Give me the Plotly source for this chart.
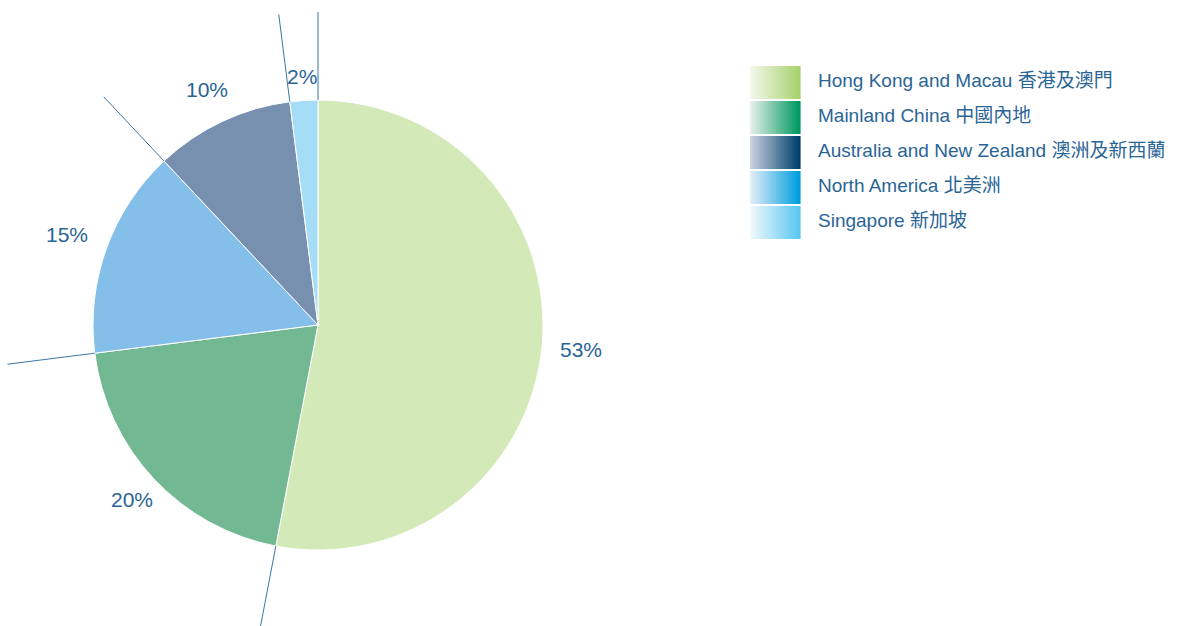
import math
import plotly.graph_objects as go

# ---- data ----
labels_en = ["Hong Kong and Macau", "Mainland China", "North America",
             "Australia and New Zealand", "Singapore"]
labels_zh = ["香港及澳門", "中國內地", "北美洲", "澳洲及新西蘭", "新加坡"]
values = [53, 20, 15, 10, 2]
pct_text = ["53%", "20%", "15%", "10%", "2%"]

legend_order = [0, 1, 3, 2, 4]  # order shown in legend

# ---- style ----
W, H = 1179, 626
slice_colors = ["#d4e9b8", "#72b893", "#84bfea", "#7790af", "#a5ddf6"]
grad_left = ["#f3f8ea", "#e4efe8", "#e2edf8", "#c9d0df", "#eef8fd"]
grad_right = ["#a8d26e", "#00995f", "#009fdf", "#003f6b", "#5cc7f0"]
label_radius = [264, 255, 267, 260, 249]
text_color = "#2a6596"
line_color = "#3a76a6"
FONT = "Liberation Sans, Arial, Noto Sans CJK TC, sans-serif"

cx, cy, R = 318, 325, 225  # pie centre / radius in pixels


def px(x):
    return x / W


def py(y):
    return 1 - y / H


fig = go.Figure()
fig.add_trace(go.Pie(
    values=values,
    labels=[f"{e} {z}" for e, z in zip(labels_en, labels_zh)],
    sort=False,
    direction="clockwise",
    rotation=0,
    textinfo="none",
    hoverinfo="label+percent",
    marker=dict(colors=slice_colors, line=dict(color="white", width=1)),
    domain=dict(x=[px(cx - R), px(cx + R)], y=[py(cy + R), py(cy - R)]),
    showlegend=False,
))

shapes = []
annotations = []

# radiating boundary lines and percentage labels, derived from the values
total = sum(values)
cum = 0.0
bounds = [0.0]
for v in values:
    cum += v
    bounds.append(cum / total * 360)

for ang in bounds[:-1]:
    a = math.radians(ang)
    r0, r1 = R, 313
    x0, y0 = cx + r0 * math.sin(a), cy - r0 * math.cos(a)
    x1, y1 = cx + r1 * math.sin(a), cy - r1 * math.cos(a)
    shapes.append(dict(type="line", xref="paper", yref="paper",
                       x0=px(x0), y0=py(y0), x1=px(x1), y1=py(y1),
                       line=dict(color=line_color, width=1)))

for i, v in enumerate(values):
    mid = (bounds[i] + bounds[i + 1]) / 2
    a = math.radians(mid)
    rl = label_radius[i]
    lx, ly = cx + rl * math.sin(a), cy - rl * math.cos(a)
    annotations.append(dict(x=px(lx), y=py(ly), xref="paper", yref="paper",
                            text=pct_text[i], showarrow=False,
                            xanchor="center", yanchor="middle",
                            font=dict(family=FONT, size=21, color=text_color)))


# custom legend with gradient swatches
def hex2rgb(h):
    h = h.lstrip("#")
    return tuple(int(h[k:k + 2], 16) for k in (0, 2, 4))


def mix(c1, c2, t):
    a, b = hex2rgb(c1), hex2rgb(c2)
    return "rgb(%d,%d,%d)" % tuple(round(a[k] + (b[k] - a[k]) * t) for k in range(3))


sw_x0, sw_x1 = 750, 800
row0, pitch, sh = 66, 35, 33
nstrip = 25
for row, idx in enumerate(legend_order):
    top = row0 + row * pitch
    for s in range(nstrip):
        xa = sw_x0 + (sw_x1 - sw_x0) * s / nstrip
        xb = sw_x0 + (sw_x1 - sw_x0) * (s + 1) / nstrip + 0.6
        shapes.append(dict(type="rect", xref="paper", yref="paper",
                           x0=px(xa), x1=px(xb), y0=py(top + sh), y1=py(top),
                           fillcolor=mix(grad_left[idx], grad_right[idx], s / (nstrip - 1)),
                           line=dict(width=0)))
    annotations.append(dict(x=px(816), y=py(top + sh / 2 - 2), xref="paper", yref="paper",
                            text=f"{labels_en[idx]} {labels_zh[idx]}", showarrow=False,
                            xanchor="left", yanchor="middle",
                            font=dict(family=FONT, size=19, color=text_color)))

fig.update_layout(
    width=W, height=H,
    margin=dict(l=0, r=0, t=0, b=0),
    paper_bgcolor="white",
    plot_bgcolor="white",
    shapes=shapes,
    annotations=annotations,
)

fig.write_html("out.html")
